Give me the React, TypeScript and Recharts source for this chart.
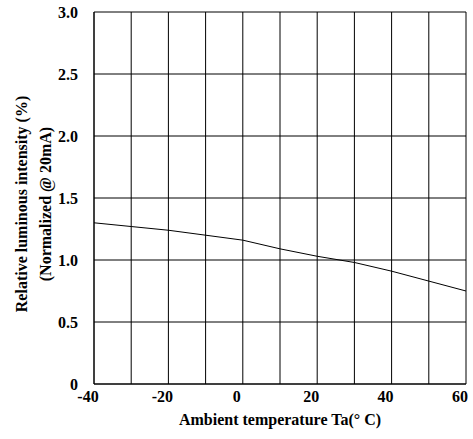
import React from 'react';
import { LineChart, Line, XAxis, YAxis, CartesianGrid, Label } from 'recharts';

const temperatures = [-40, -30, -20, -10, 0, 10, 20, 30, 40, 50, 60];
const intensity = [1.3, 1.27, 1.24, 1.2, 1.16, 1.09, 1.03, 0.98, 0.91, 0.83, 0.75];
const xTicks = [-40, -30, -20, -10, 0, 10, 20, 30, 40, 50, 60];
const yTicks = [0, 0.5, 1.0, 1.5, 2.0, 2.5, 3.0];
const xTitle = 'Ambient temperature Ta(° C)';
const yTitle1 = 'Relative luminous intensity (%)';
const yTitle2 = '(Normalized @ 20mA)';

const data = temperatures.map((t, i) => ({ t, v: intensity[i] }));

const FONT = '"Liberation Serif", "Times New Roman", serif';

const YTitle = (props: any) => {
  const vb = props.viewBox || {};
  const cy = vb.y + vb.height / 2 + 6;
  return (
    <g>
      <text x={21} y={cy} transform={`rotate(-90, 21, ${cy})`} textAnchor="middle" dominantBaseline="central"
        fontFamily={FONT} fontWeight="bold" fontSize={16} fill="#000">{yTitle1}</text>
      <text x={45} y={cy} transform={`rotate(-90, 45, ${cy})`} textAnchor="middle" dominantBaseline="central"
        fontFamily={FONT} fontWeight="bold" fontSize={16} fill="#000">{yTitle2}</text>
    </g>
  );
};

export default function App() {
  return (
    <div style={{ position: 'absolute', left: 0, top: 0, width: 473, height: 439, background: '#fff' }}>
      <LineChart width={473} height={439} data={data} margin={{ top: 12, right: 7, bottom: 10, left: 0 }}>
        <CartesianGrid stroke="#000" strokeWidth={1} horizontalValues={yTicks} verticalValues={xTicks} />
        <XAxis dataKey="t" type="number" domain={[-40, 60]} ticks={xTicks} interval={0}
          tickFormatter={(v: number) => (v % 20 === 0 ? String(v) : '')}
          tickLine={false} axisLine={{ stroke: '#000' }} height={45}
          tick={{ fontFamily: FONT, fontWeight: 'bold', fontSize: 16, fill: '#000', dx: -6 }} tickMargin={1}>
          <Label value={xTitle} position="insideBottom" offset={4}
            style={{ fontFamily: FONT, fontWeight: 'bold', fontSize: 16, fill: '#000' }} />
        </XAxis>
        <YAxis type="number" domain={[0, 3]} ticks={yTicks} interval={0} width={94}
          tickFormatter={(v: number) => (v === 0 ? '0' : v.toFixed(1))}
          tickLine={false} axisLine={{ stroke: '#000' }} tickMargin={10}
          tick={{ fontFamily: FONT, fontWeight: 'bold', fontSize: 16, fill: '#000' }}>
          <Label content={<YTitle />} />
        </YAxis>
        <Line type="linear" dataKey="v" stroke="#000" strokeWidth={1} dot={false} isAnimationActive={false} />
      </LineChart>
    </div>
  );
}
